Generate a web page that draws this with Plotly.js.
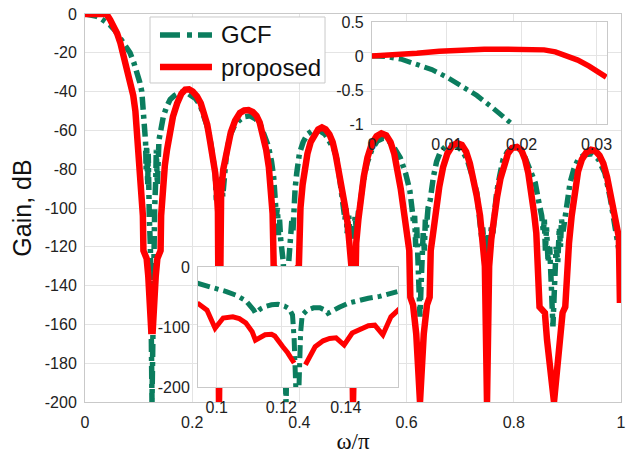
<!DOCTYPE html>
<html><head><meta charset="utf-8">
<script src="https://cdn.plot.ly/plotly-3.0.1.min.js"></script>
<style>html,body{margin:0;padding:0;background:#fff}</style>
</head><body><div id="chart" style="width:632px;height:454px"></div>
<script>
// ---- data: [omega/pi, gain dB] ----
const gcfMain = [[0,0],[0.01,-0.3],[0.02,-1],[0.028,-2],[0.038,-3.8],[0.047,-5.7],[0.056,-8.5],[0.065,-12],[0.075,-16],[0.084,-20],[0.091,-25],[0.097,-30],[0.102,-35],[0.106,-40],[0.109,-50],[0.112,-60],[0.113,-66],[0.114,-80],[0.115,-68],[0.117,-88],[0.118,-72],[0.120,-105],[0.122,-120],[0.125,-200],[0.128,-120],[0.130,-100],[0.132,-85],[0.133,-70],[0.135,-88],[0.136,-72],[0.138,-65],[0.142,-59],[0.146,-53],[0.152,-48],[0.159,-44],[0.167,-42],[0.177,-40.5],[0.187,-40],[0.197,-41.5],[0.206,-43.5],[0.215,-47],[0.222,-52],[0.228,-58],[0.233,-64],[0.237,-70],[0.240,-76],[0.243,-82],[0.245,-96],[0.247,-86],[0.249,-100],[0.251,-92],[0.253,-99],[0.255,-84],[0.257,-94],[0.260,-80],[0.264,-72],[0.270,-63],[0.278,-58],[0.287,-55],[0.297,-53],[0.308,-52.5],[0.318,-54],[0.327,-57],[0.335,-62],[0.342,-68],[0.348,-76],[0.352,-84],[0.355,-96],[0.357,-104],[0.359,-100],[0.361,-114],[0.363,-106],[0.365,-116],[0.370,-128],[0.375,-200],[0.380,-128],[0.384,-116],[0.386,-106],[0.388,-112],[0.390,-98],[0.392,-90],[0.395,-82],[0.400,-72],[0.407,-66],[0.415,-62],[0.425,-60],[0.437,-60],[0.448,-62],[0.458,-66],[0.465,-70],[0.471,-76],[0.476,-86],[0.481,-99],[0.485,-106],[0.487,-100],[0.489,-113],[0.492,-104],[0.495,-115],[0.498,-112],[0.501,-116],[0.504,-104],[0.507,-114],[0.510,-102],[0.513,-99],[0.518,-88],[0.526,-77],[0.535,-70],[0.545,-65.5],[0.556,-64],[0.567,-65.5],[0.577,-69],[0.588,-74],[0.598,-82],[0.606,-91],[0.610,-100],[0.613,-108],[0.615,-104],[0.617,-120],[0.619,-110],[0.621,-130],[0.623,-140],[0.625,-156],[0.627,-140],[0.629,-130],[0.631,-112],[0.633,-122],[0.635,-106],[0.637,-110],[0.640,-100],[0.644,-96],[0.650,-84],[0.656,-76],[0.663,-71],[0.672,-68.5],[0.683,-67.5],[0.694,-68],[0.705,-71],[0.713,-75],[0.722,-83],[0.731,-92],[0.737,-108],[0.740,-115],[0.742,-110],[0.745,-122],[0.748,-114],[0.750,-126],[0.752,-114],[0.755,-122],[0.758,-110],[0.761,-113],[0.765,-100],[0.768,-92],[0.774,-83],[0.780,-75],[0.788,-71],[0.797,-69],[0.806,-68.5],[0.815,-71],[0.821,-74],[0.830,-80],[0.840,-87],[0.846,-96],[0.852,-104],[0.855,-112],[0.857,-106],[0.859,-122],[0.861,-110],[0.864,-128],[0.867,-120],[0.870,-140],[0.873,-161],[0.876,-140],[0.879,-120],[0.882,-128],[0.885,-110],[0.887,-120],[0.889,-106],[0.892,-112],[0.896,-104],[0.900,-95],[0.905,-87],[0.912,-80],[0.920,-75],[0.932,-72.5],[0.946,-72],[0.958,-75],[0.970,-82],[0.980,-95],[0.989,-113],[0.995,-120],[1.0,-127]];

const proposedMain = [[0,0],[0.02,0],[0.04,0],[0.047,-3],[0.054,-6],[0.06,-10],[0.066,-15],[0.071,-20],[0.076,-26],[0.08,-31],[0.085,-36],[0.09,-42],[0.094,-50],[0.097,-60],[0.1,-75],[0.103,-89],[0.106,-100],[0.108,-104],[0.109,-122],[0.112,-124],[0.115,-126],[0.118,-135],[0.121,-145],[0.124,-165],[0.125,null],[0.126,-165],[0.129,-145],[0.132,-135],[0.135,-126],[0.138,-124],[0.141,-122],[0.142,-104],[0.145,-88],[0.149,-78],[0.153,-70],[0.158,-61],[0.164,-53],[0.172,-46],[0.18,-41],[0.187,-39],[0.194,-38.8],[0.201,-40],[0.209,-42.5],[0.216,-46],[0.222,-51],[0.228,-57],[0.233,-65],[0.238,-73],[0.243,-82],[0.246,-92],[0.248,-102],[0.25,-200],[0.252,-102],[0.254,-92],[0.258,-80],[0.265,-69],[0.272,-61],[0.28,-55],[0.289,-51],[0.297,-49.7],[0.305,-49.5],[0.313,-50.5],[0.32,-52.5],[0.326,-56],[0.332,-62],[0.338,-70],[0.343,-79],[0.347,-90],[0.35,-103],[0.351,-116],[0.352,-130],[0.358,-132],[0.363,-140],[0.368,-150],[0.374,-165],[0.375,null],[0.376,-165],[0.382,-150],[0.387,-140],[0.392,-132],[0.399,-130],[0.4,-115],[0.402,-100],[0.406,-88],[0.41,-80],[0.415,-72],[0.421,-66],[0.428,-62],[0.435,-59.5],[0.442,-58.5],[0.449,-59.5],[0.456,-62],[0.462,-66],[0.468,-73],[0.474,-81],[0.48,-90],[0.485,-99],[0.49,-108],[0.494,-118],[0.497,-130],[0.5,-200],[0.503,-130],[0.506,-118],[0.51,-106],[0.515,-94],[0.52,-84],[0.527,-74],[0.535,-67],[0.544,-63],[0.553,-61.5],[0.562,-62.5],[0.57,-66],[0.577,-72],[0.583,-80],[0.589,-90],[0.595,-102],[0.601,-116],[0.605,-122],[0.607,-146],[0.612,-150],[0.618,-165],[0.625,-200],[0.632,-165],[0.638,-150],[0.643,-146],[0.645,-122],[0.649,-114],[0.655,-100],[0.661,-89],[0.668,-79],[0.676,-72],[0.685,-68],[0.694,-66.5],[0.703,-67.5],[0.711,-71],[0.718,-77],[0.725,-85],[0.731,-94],[0.737,-104],[0.742,-116],[0.746,-130],[0.75,-200],[0.754,-130],[0.758,-116],[0.763,-104],[0.769,-94],[0.775,-85],[0.782,-77],[0.789,-72],[0.797,-69],[0.806,-68.5],[0.814,-70],[0.821,-75],[0.827,-82],[0.833,-92],[0.838,-103],[0.842,-113],[0.845,-133],[0.848,-151],[0.858,-154],[0.862,-168],[0.875,-200],[0.887,-168],[0.891,-154],[0.896,-151],[0.899,-133],[0.903,-118],[0.908,-104],[0.914,-90],[0.92,-81],[0.927,-75],[0.935,-71.5],[0.944,-70],[0.952,-70.5],[0.96,-73],[0.967,-77],[0.974,-84],[0.98,-92],[0.986,-101],[0.992,-110],[0.996,-115],[0.998,-149]];

// passband zoom (top-right inset)
const gcfPass = [[0,0],[0.002,-0.01],[0.004,-0.05],[0.006,-0.12],[0.008,-0.2],[0.010,-0.31],[0.012,-0.44],[0.014,-0.58],[0.016,-0.75],[0.018,-0.93],[0.019,-1.03]];
const proposedPass = [[0,0],[0.003,0.01],[0.006,0.04],[0.009,0.07],[0.012,0.09],[0.015,0.1],[0.018,0.1],[0.021,0.1],[0.023,0.09],[0.0245,0.06],[0.026,0.01],[0.0275,-0.06],[0.029,-0.15],[0.0305,-0.25],[0.0313,-0.31]];

// stopband zoom (bottom inset)
const gcfStop = [[0.094,-27],[0.097,-31],[0.100,-36],[0.103,-41],[0.106,-47],[0.109,-56],[0.1115,-72],[0.112,-77],[0.1135,-70],[0.115,-66],[0.117,-63],[0.119,-62],[0.121,-65],[0.1225,-70],[0.1235,-80],[0.124,-120],[0.1245,-200],[0.1255,-200],[0.126,-110],[0.1265,-80],[0.128,-72],[0.130,-68],[0.132,-68],[0.134,-73],[0.1345,-77],[0.136,-72],[0.138,-67],[0.141,-60],[0.144,-55],[0.147,-52],[0.1505,-49],[0.153,-45],[0.156,-41]];
const proposedStop = [[0.094,-60],[0.097,-72],[0.0995,-102],[0.102,-85],[0.105,-83],[0.107,-86],[0.109,-93],[0.111,-108],[0.112,-122],[0.115,-113],[0.117,-112],[0.118,-115],[0.1205,-133],[0.122,-143],[0.124,-160],[0.1255,null],[0.1275,-163],[0.129,-148],[0.1305,-133],[0.133,-123],[0.135,-119],[0.137,-118],[0.1395,-130],[0.142,-110],[0.145,-102],[0.147,-98],[0.149,-97],[0.1515,-113],[0.154,-83],[0.157,-68]];

// ticks
const mainXTicks = [0,0.2,0.4,0.6,0.8,1];
const mainXText = ['0','0.2','0.4','0.6','0.8','1'];
const mainYTicks = [0,-20,-40,-60,-80,-100,-120,-140,-160,-180,-200];
const mainYText = ['0','-20','-40','-60','-80','-100','-120','-140','-160','-180','-200'];
const passXTicks = [0,0.01,0.02,0.03];
const passXText = ['0','0.01','0.02','0.03'];
const passYTicks = [0.5,0,-0.5,-1];
const passYText = ['0.5','0','-0.5','-1'];
const stopXTicks = [0.1,0.12,0.14];
const stopXText = ['0.1','0.12','0.14'];
const stopYTicks = [0,-100,-200];
const stopYText = ['0','-100','-200'];

const names = ['GCF','proposed'];

// ---- styling ----
const GREEN = '#0b7d5e', RED = '#ff0000';
const FONT = 'Liberation Sans, Arial, Helvetica, sans-serif';
const dashGCF = '13px,5px,4px,5px';
const X = a => a.map(p => p[0]);
const Y = a => a.map(p => p[1]);

const traces = [
  {x:X(gcfMain), y:Y(gcfMain), name:names[0], showlegend:false, mode:'lines', xaxis:'x', yaxis:'y',
   line:{color:GREEN, width:5.5, dash:dashGCF}, connectgaps:false},
  {x:X(proposedMain), y:Y(proposedMain), name:names[1], showlegend:false, mode:'lines', xaxis:'x', yaxis:'y',
   line:{color:RED, width:6.5}, connectgaps:false},
  {x:X(gcfPass), y:Y(gcfPass), name:names[0], showlegend:false, mode:'lines', xaxis:'x2', yaxis:'y2',
   line:{color:GREEN, width:5, dash:dashGCF}},
  {x:X(proposedPass), y:Y(proposedPass), name:names[1], showlegend:false, mode:'lines', xaxis:'x2', yaxis:'y2',
   line:{color:RED, width:5.5}},
  {x:X(gcfStop), y:Y(gcfStop), name:names[0], showlegend:false, mode:'lines', xaxis:'x3', yaxis:'y3',
   line:{color:GREEN, width:5, dash:dashGCF}},
  {x:X(proposedStop), y:Y(proposedStop), name:names[1], showlegend:false, mode:'lines', xaxis:'x3', yaxis:'y3',
   line:{color:RED, width:5}, connectgaps:false}
];

const axBase = {
  showgrid:true, gridcolor:'#e4e4e4', gridwidth:1,
  showline:true, linecolor:'#c9c9c9', linewidth:1, mirror:true,
  zeroline:false, ticks:'', tickmode:'array',
  tickfont:{family:FONT, size:16, color:'#222'}, fixedrange:true
};

// legend drawn as a boxed key (paper coordinates)
const legendShapes = [
  {type:'rect', xref:'paper', yref:'paper', x0:0.1213, x1:0.4478, y0:0.8222, y1:0.9923,
   line:{color:'#c9c9c9', width:1}, fillcolor:'#ffffff', layer:'above'},
  {type:'line', xref:'paper', yref:'paper', x0:0.1399, x1:0.2369, y0:0.9459, y1:0.9459,
   line:{color:GREEN, width:5.5, dash:'20px,7px,5px,6px'}, layer:'above'},
  {type:'line', xref:'paper', yref:'paper', x0:0.1399, x1:0.2369, y0:0.8634, y1:0.8634,
   line:{color:RED, width:6.5}, layer:'above'}
];
const legendText = [
  {xref:'paper', yref:'paper', x:0.2500, y:0.9459, xanchor:'left', yanchor:'middle', showarrow:false,
   text:names[0], font:{family:FONT, size:24, color:'#111'}},
  {xref:'paper', yref:'paper', x:0.2500, y:0.8634, xanchor:'left', yanchor:'middle', showarrow:false,
   text:names[1], font:{family:FONT, size:24, color:'#111'}}
];

const layout = {
  width:632, height:454,
  margin:{l:85, r:11, t:14, b:52},
  paper_bgcolor:'white', plot_bgcolor:'#ffffff',
  showlegend:false,
  shapes:legendShapes,
  annotations:legendText,
  xaxis:Object.assign({}, axBase, {domain:[0,1], range:[0,1], tickvals:mainXTicks, ticktext:mainXText,
    ticklabelstandoff:6,
    title:{text:'ω/π', font:{family:'Liberation Serif, Times New Roman, serif', size:23, color:'#111'}, standoff:4}}),
  yaxis:Object.assign({}, axBase, {domain:[0,1], range:[-200,0], tickvals:mainYTicks, ticktext:mainYText,
    ticklabelstandoff:4,
    title:{text:'Gain, dB', font:{family:FONT, size:25, color:'#111'}, standoff:6}}),
  xaxis2:Object.assign({}, axBase, {domain:[0.5354,0.9739], anchor:'y2', range:[0,0.0314],
    tickvals:passXTicks, ticktext:passXText, ticklabelstandoff:6}),
  yaxis2:Object.assign({}, axBase, {domain:[0.7165,0.9794], anchor:'x2', range:[-1,0.5],
    tickvals:passYTicks, ticktext:passYText, ticklabelstandoff:4}),
  xaxis3:Object.assign({}, axBase, {domain:[0.2108,0.584], anchor:'y3', range:[0.0942,0.1562],
    tickvals:stopXTicks, ticktext:stopXText, ticklabelstandoff:6}),
  yaxis3:Object.assign({}, axBase, {domain:[0.0387,0.3479], anchor:'x3', range:[-200,0],
    tickvals:stopYTicks, ticktext:stopYText, ticklabelstandoff:4})
};

Plotly.newPlot('chart', traces, layout, {displayModeBar:false, staticPlot:true});
</script></body></html>
